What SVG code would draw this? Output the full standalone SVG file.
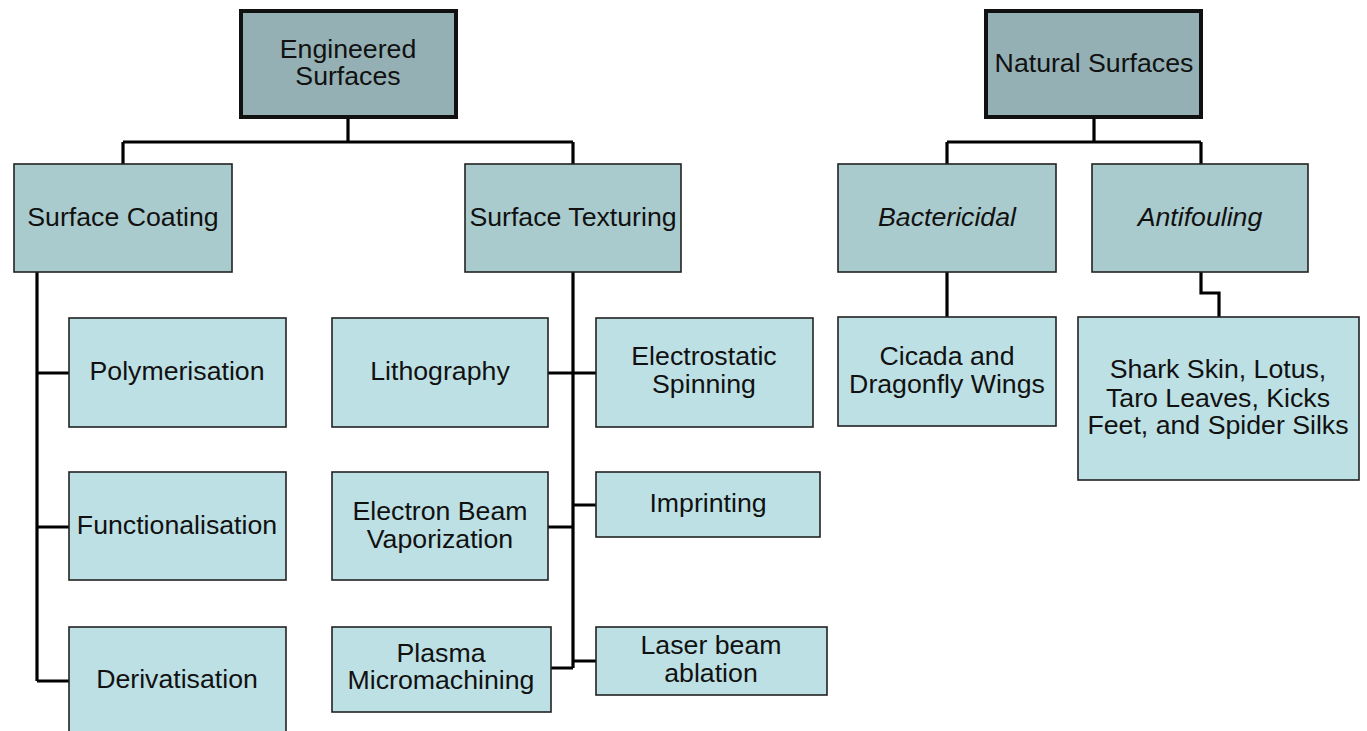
<svg xmlns="http://www.w3.org/2000/svg" width="1367" height="731" viewBox="0 0 1367 731">
<style>
text{font-family:"Liberation Sans",Arial,sans-serif;font-size:26.7px;fill:#111;text-anchor:middle}
.top{fill:#94b0b4;stroke:#111;stroke-width:4}
.mid{fill:#aacbce;stroke:#222;stroke-width:1.6}
.leaf{fill:#bde0e4;stroke:#222;stroke-width:1.6}
.it{font-style:italic}
.con path{fill:none;stroke:#000;stroke-width:3.2}
</style>
<rect width="1367" height="731" fill="#fff"/>
<g class="con" id="connectors">
<path d="M348,119V142M123,142H573M123,142V164M573,142V164"/>
<path d="M37,272V681M37,373H69M37,527H69M37,681H69"/>
<path d="M573,272V668M548,373H596M548,527H573M573,505H596M551,668H573M573,661H596"/>
<path d="M1094,119V142M947,142H1201M947,142V164M1201,142V164"/>
<path d="M947,272V317"/>
<path d="M1201,272V293H1219V317"/>
</g>
<g id="engineered"><rect class="top" x="241" y="11" width="215" height="106"/><text x="348" y="58">Engineered</text><text x="348" y="85">Surfaces</text></g>
<g id="natural"><rect class="top" x="986" y="11" width="215" height="106"/><text x="1094" y="72">Natural Surfaces</text></g>
<g id="coating"><rect class="mid" x="14" y="164" width="218" height="108"/><text x="123" y="226">Surface Coating</text></g>
<g id="texturing"><rect class="mid" x="465" y="164" width="216" height="108"/><text x="573" y="226">Surface Texturing</text></g>
<g id="bactericidal"><rect class="mid" x="838" y="164" width="218" height="108"/><text class="it" x="947" y="226">Bactericidal</text></g>
<g id="antifouling"><rect class="mid" x="1092" y="164" width="216" height="108"/><text class="it" x="1200" y="226">Antifouling</text></g>
<g id="polymerisation"><rect class="leaf" x="69" y="318" width="217" height="109"/><text x="177" y="380">Polymerisation</text></g>
<g id="functionalisation"><rect class="leaf" x="69" y="472" width="217" height="108"/><text x="177" y="534">Functionalisation</text></g>
<g id="derivatisation"><rect class="leaf" x="69" y="627" width="217" height="110"/><text x="177" y="688">Derivatisation</text></g>
<g id="lithography"><rect class="leaf" x="332" y="318" width="216" height="109"/><text x="440" y="380">Lithography</text></g>
<g id="electrostatic"><rect class="leaf" x="596" y="318" width="217" height="109"/><text x="704" y="365">Electrostatic</text><text x="704" y="393">Spinning</text></g>
<g id="electronbeam"><rect class="leaf" x="332" y="472" width="216" height="108"/><text x="440" y="520">Electron Beam</text><text x="440" y="548">Vaporization</text></g>
<g id="imprinting"><rect class="leaf" x="596" y="472" width="224" height="65"/><text x="708" y="512">Imprinting</text></g>
<g id="plasma"><rect class="leaf" x="332" y="627" width="219" height="85"/><text x="441" y="662">Plasma</text><text x="441" y="689">Micromachining</text></g>
<g id="laser"><rect class="leaf" x="596" y="627" width="231" height="68"/><text x="711" y="654">Laser beam</text><text x="711" y="682">ablation</text></g>
<g id="cicada"><rect class="leaf" x="838" y="317" width="218" height="109"/><text x="947" y="365">Cicada and</text><text x="947" y="393">Dragonfly Wings</text></g>
<g id="shark"><rect class="leaf" x="1078" y="317" width="281" height="163"/><text x="1218" y="378">Shark Skin, Lotus,</text><text x="1218" y="407">Taro Leaves, Kicks</text><text x="1218" y="434">Feet, and Spider Silks</text></g>
</svg>
